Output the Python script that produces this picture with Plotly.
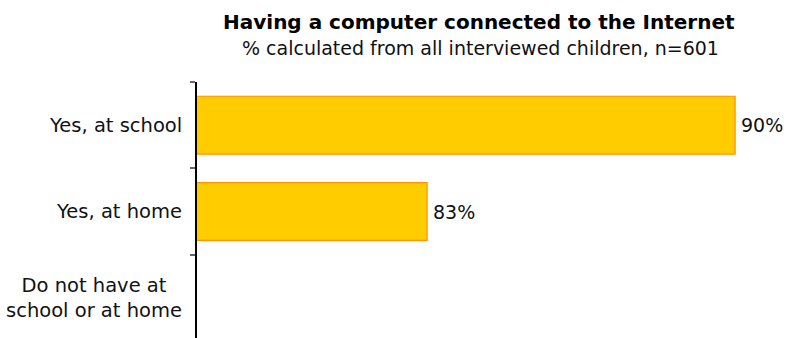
import plotly.graph_objects as go

# Survey categories and shares (%)
categories = ["Yes, at school", "Yes, at home", "Do not have at<br>school or at home"]
values = [90, 83, None]
value_labels = ["90%", "83%", ""]

title_text = "Having a computer connected to the Internet"
subtitle_text = "% calculated from all interviewed children, n=601"

W, H = 788, 338
L, R, T, B = 197, 40, 82, 0
plot_w = W - L - R
plot_h = H - T - B

# value axis window (px per unit chosen so the bars sit across the plot width)
x_lo = 77.77
px_per_unit = 44.0
x_hi = x_lo + plot_w / px_per_unit

fig = go.Figure()
fig.add_trace(go.Bar(
    y=categories,
    x=values,
    orientation="h",
    width=0.67,
    marker=dict(color="#FFCC00", line=dict(color="#FF9200", width=1.2)),
    hoverinfo="skip",
))

# Value labels just past the end of each bar
for cat, val, lab in zip(categories, values, value_labels):
    if val is None:
        continue
    fig.add_annotation(
        x=val, xref="x", y=cat, yref="y",
        text=lab, showarrow=False,
        xanchor="left", yanchor="middle", xshift=4,
        font=dict(family="DejaVu Sans", size=19, color="#111111"),
    )

# Category names, centred line by line to the left of the axis
for cat in categories:
    fig.add_annotation(
        x=0, xref="paper", y=cat, yref="y",
        text=cat, showarrow=False,
        xanchor="right", yanchor="middle", align="center",
        xshift=-13,
        font=dict(family="DejaVu Sans", size=19.5, color="#111111"),
    )

def px_to_paper_x(px):
    return (px - L) / plot_w

def px_to_paper_y(py):
    return (H - B - py) / plot_h

fig.add_annotation(
    x=px_to_paper_x(479), xref="paper", y=px_to_paper_y(22), yref="paper",
    text="<b>" + title_text + "</b>", showarrow=False,
    xanchor="center", yanchor="middle",
    font=dict(family="DejaVu Sans", size=20, color="#000000"),
)
fig.add_annotation(
    x=px_to_paper_x(480), xref="paper", y=px_to_paper_y(48), yref="paper",
    text=subtitle_text, showarrow=False,
    xanchor="center", yanchor="middle",
    font=dict(family="DejaVu Sans", size=19, color="#111111"),
)

fig.update_layout(
    width=W, height=H,
    margin=dict(l=L, r=R, t=T, b=B, pad=0),
    plot_bgcolor="white", paper_bgcolor="white",
    showlegend=False,
    xaxis=dict(range=[x_lo, x_hi], visible=False, fixedrange=True),
    yaxis=dict(
        type="category",
        range=[2.465, -0.5],
        showticklabels=False,
        showgrid=False, zeroline=False,
        showline=True, linecolor="#000000", linewidth=2,
        ticks="outside", ticklen=5, tickcolor="#666666", tickwidth=2,
        tickson="boundaries",
        fixedrange=True,
    ),
)

fig.write_html("out.html")
